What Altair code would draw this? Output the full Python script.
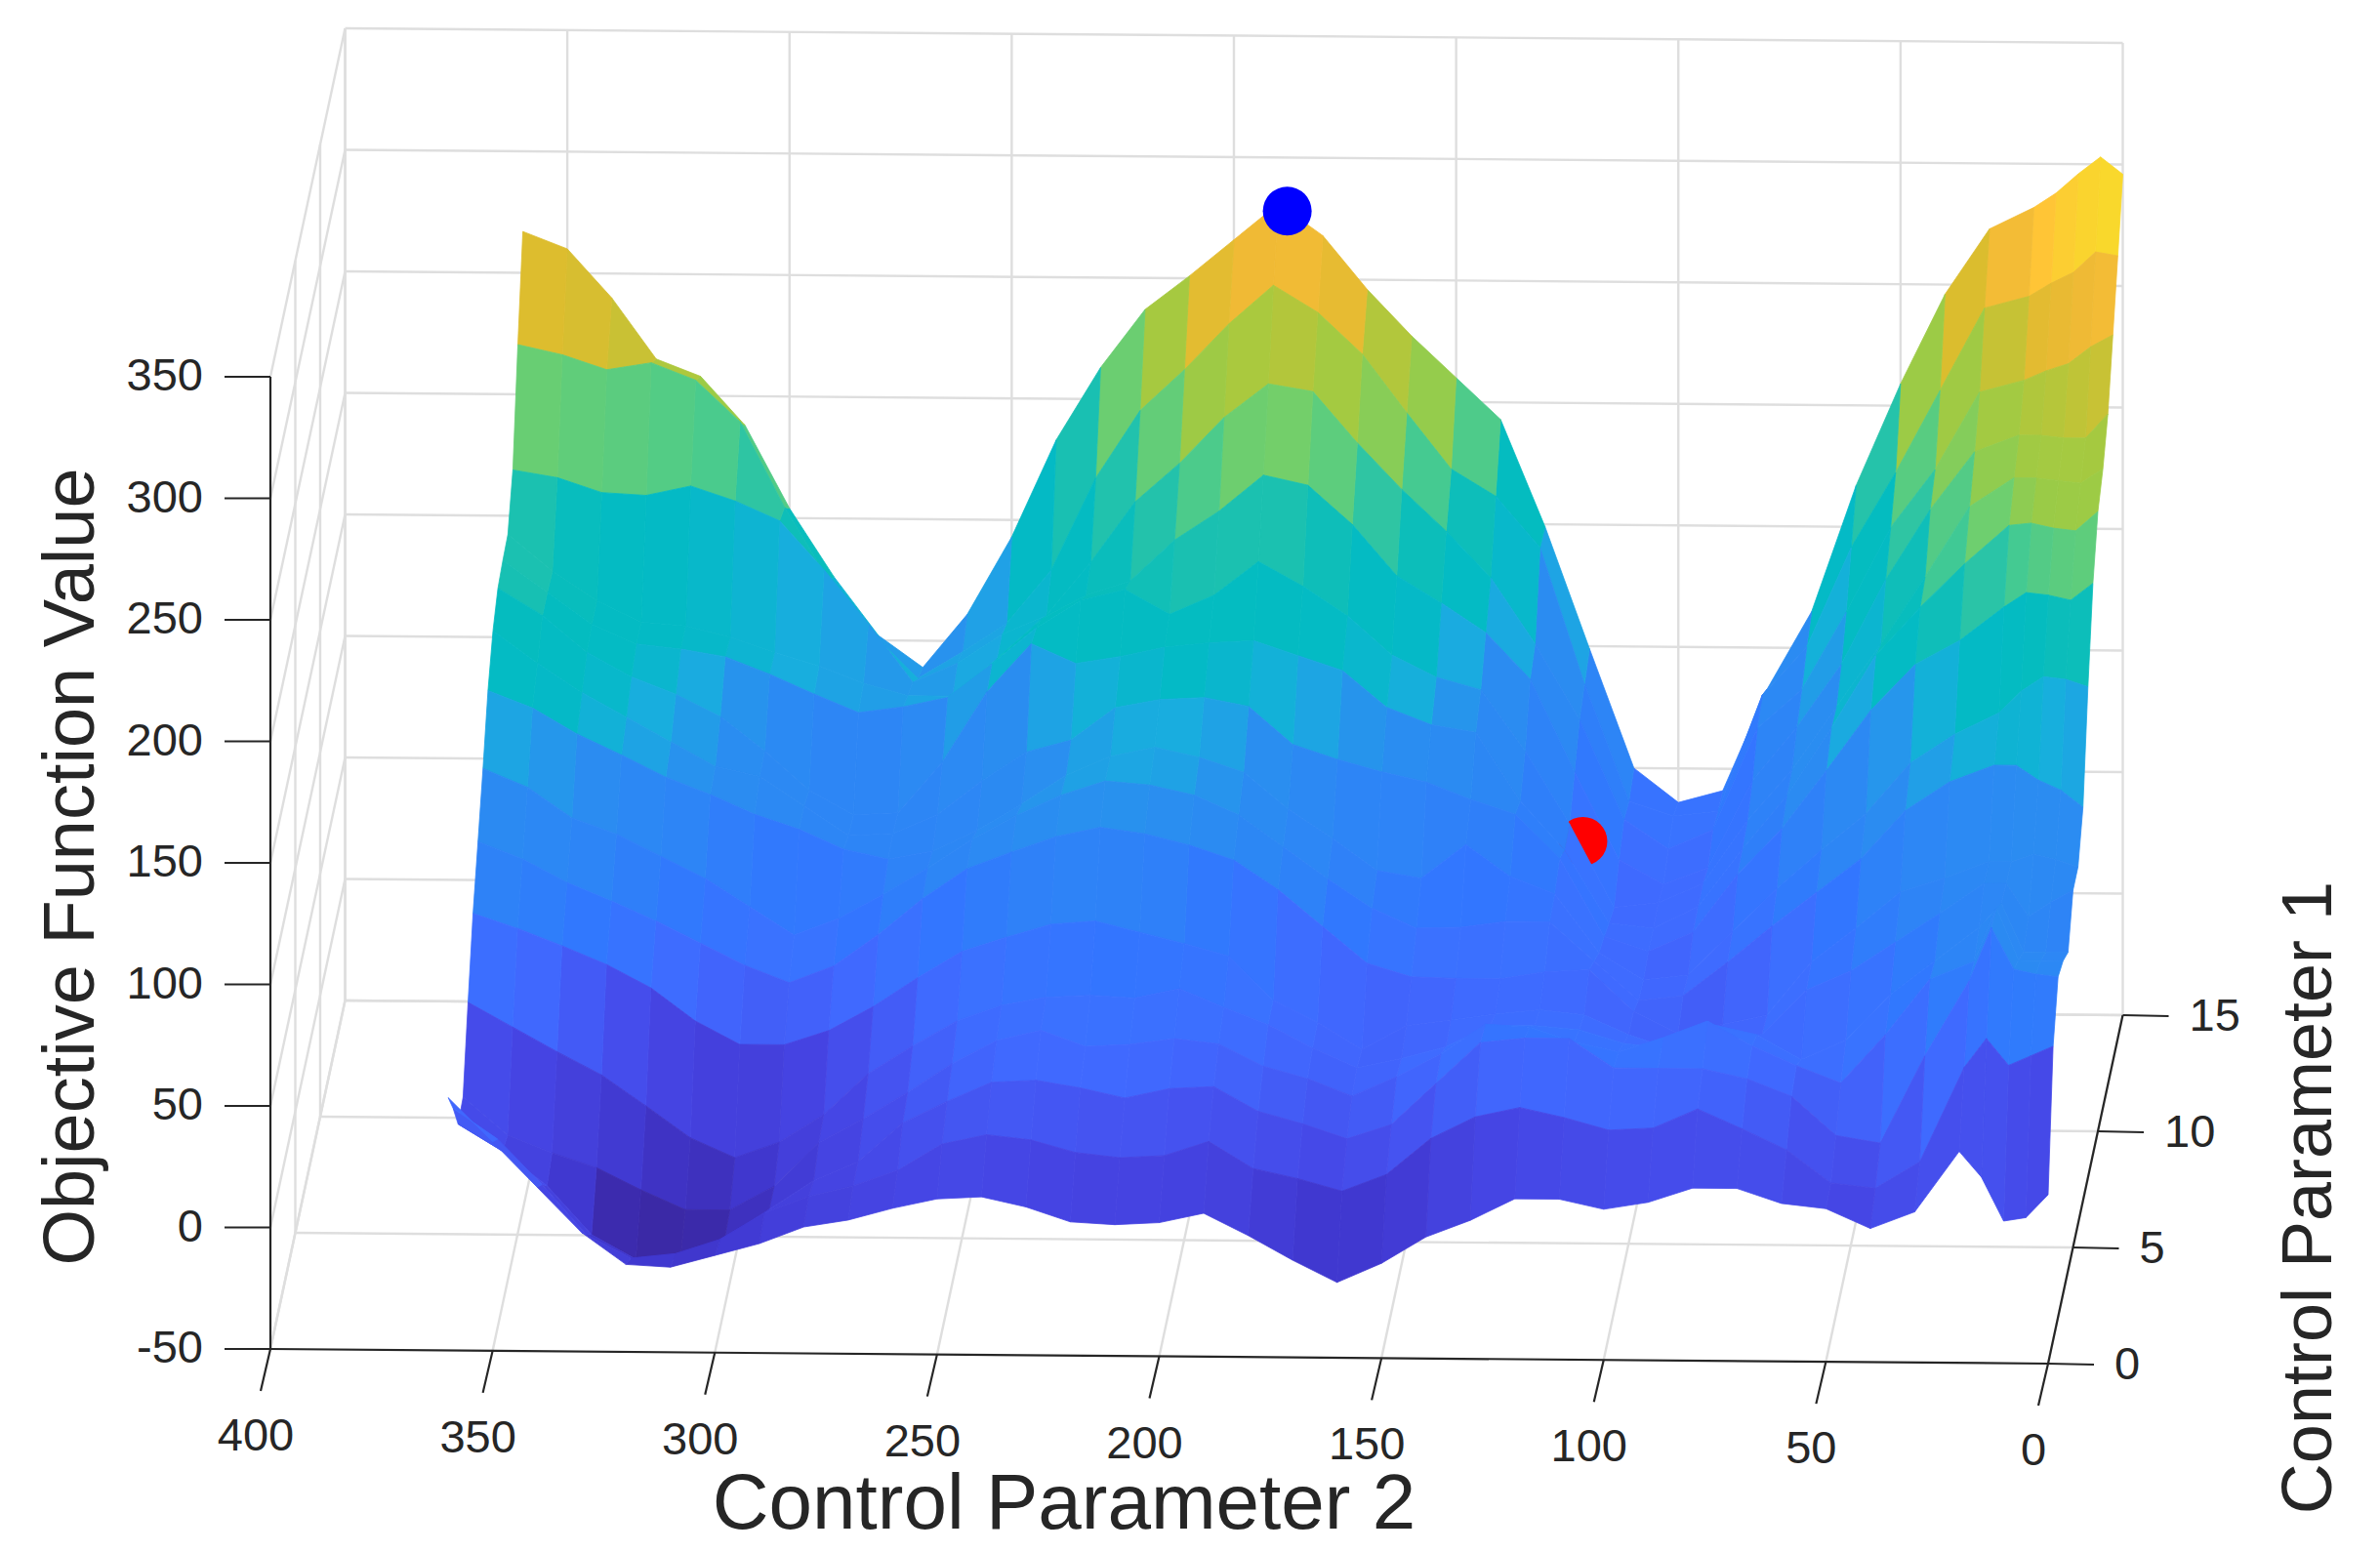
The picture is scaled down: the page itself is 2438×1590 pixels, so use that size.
import altair as alt

cp2_values = [0,5,10,15] + list(range(20, 370, 10))
cp1_values = list(range(0, 16))

z_r0 = [19.5,10,8.5,26.5,37,12,5,13,15,21,21,15,12,16,16,7,0,-11,-19,-10,0,9,5,4,5,11,15,14,10,5,2,-5,-10,-15,-14,-1,17.5,36,54]
z_r1 = [71,67,63,74,62,23,12,14,27.5,36,44,36,35,40,44,40,31,16,9,14,18,29,23,22,24,29,31,27,16,9.5,5,-2,-13,-19,-21,-11.5,9,27.5,40]
z_r2 = [90,91,93,110,88,57,21,24,40,47,51,51,51,63,63,61,44,27,21,27,32,42,41,37,41,44,43,35,26,10,2,-10,-22,-31,-31,-21,-1,13,24]
z_r3 = [87,87,87,108.6,86.5,79,56,36,43,51,61,54,48,52,58,59,46.5,37,29,36,41,50,52,49.5,48.5,55,50.6,41,29,18,8,-10,-20,-20,-12,-3,3,10,25.5]
z_r4 = [81,81,81,101,91,77,63,44,36,46,50,40,42,47.5,49,49,40,35,31,39,48.5,55.5,63,59,60,59,55.5,49,38.5,27,10,-1.5,-8,0,13,25.6,35,45,55]
z_r5 = [97,92,86,99.6,99.5,87,75,63,55,36.5,34,30,36,44,46,44,41.5,39,29,40,49,67,72,76.5,81,79.5,74,68,57,45,35,29,29,38.5,52,61.5,69,76,82]
z_r6 = [97,100,102,99,99,92,86,71,57,35,31,27,36,53,52,49,49,49.5,55,70,85,97,103,107.5,110,106,99.5,92.5,80,65,52,45,52,61,70,78,85.5,95,102]
z_r7 = [112,119,123,129,129,122,110,90,76,62,47,33,31,47,63,63,60.5,60,68,80,93,106,114,118,119.5,113.5,105,95,83,72,62,55,66.5,78,87,96,102.5,115,122.5]
z_r8 = [152,155,156,150,141,132,120,99,84,68,50,32,30,41,65,72,85,71,74,87,99,114,120,124,120,112,100,89,80.5,77,81,89,95,103,110,119,127.5,138,145]
z_r9 = [185,178,180,181,175,161,151,132,107,83,64,40,32,38,70,88,94,101,105,110,116,131.5,135,134,130.5,117,112,100,86,78,77,89,101,105,115,125,135,147,160]
z_r10 = [205,197,198,200,199,183,165,145,115,87,65,41,32,34,64,84,112,115,122,137,143,149,148,146,142,139,147,127,98,77,76,86,102,116,125,132,142,157,168]
z_r11 = [213,207,208,209,209,197,168,140,114,88,67,41,33,31,65,95,120,125,134,150,162,172,158,150,160,155.5,144,129,115,111,108.5,116,124,131,134,136,144,157,170]
z_r12 = [226,216,216,217,217,210,186,157,122,96,74,38,31,41,77,115,134,146,157,178,194,198,183,171,154,148,138,121.5,106,106,111,118,123.5,129.5,134,135.5,144,156,171]
z_r13 = [249,244,237,234,230,225,193,169,134,102,86,44,36,48,89,120,147,166,183,202,223,226,212,193,177,152,130,122,110,102,126,148,168,176,182,178,179,185,188]
z_r14 = [272,273.5,265,260.5,255,250,216,182,151,110,90,42,40,46,94,150,171,182,205,229,246,257,241,222,205,177,139,117,105,94,112,134,164,199,216,223,220,226,230]
z_r15 = [296,303,296,288,282,273,246,209,167,115,83,41,36,50,99,149,193,210,227,246,268,281,266,251,237,213,183,143,111,89,102,126,154,188,208,215,240,260,267]
z_rows = [z_r0,z_r1,z_r2,z_r3,z_r4,z_r5,z_r6,z_r7,z_r8,z_r9,z_r10,z_r11,z_r12,z_r13,z_r14,z_r15]

color_stops = [-30,-20,-10,0,10,23,41,52,62,78,105,120,133,150,168,172,188,198,213,226,240,257,273,303]
color_range = ["#3a28a0","#3c2bb0","#4038d0","#4440dc","#4545e4","#4552f0","#4069ff","#3a72ff","#3276ff","#2e83f7",
               "#2a8ef0","#18aede","#04bac6","#04bcc0","#2cc4a5","#3dc998","#72cf6b","#9acb47","#a8c93f",
               "#dcbd2e","#eeb935","#ffc437","#f8dc2a","#fbf01c"]

cp2_ticks = [0,50,100,150,200,250,300,350,400]
cp1_ticks = [0,5,10,15]
z_ticks = [-50,0,50,100,150,200,250,300,350]

best_point = {"cp2":188,"cp1":15,"z":278}
start_point = {"cp2":117,"cp1":11,"z":58}

GRID = "#dedede"
DARK = "#262626"
FONT = "Liberation Sans"
PROJ = dict(type="identity", scale=1, translate=[-8,-8])

def proj(cp2, cp1, z):
    return (277 + (400-cp2)*4.5525 + cp1*5.1,
            1382 + (400-cp2)*0.0375 - cp1*23.8 - (z+50)*2.49)

def band_value(i, j):
    row = z_rows[i]
    idx = [max(j-1,0), j, j+1, min(j+2,len(row)-1)]
    return sum(row[k] for k in idx) / 4

def feature(i, j):
    a = proj(cp2_values[j], cp1_values[i], z_rows[i][j])
    b = proj(cp2_values[j+1], cp1_values[i], z_rows[i][j+1])
    c = proj(cp2_values[j+1], cp1_values[i+1], z_rows[i+1][j+1])
    d = proj(cp2_values[j], cp1_values[i+1], z_rows[i+1][j])
    return {"type":"Feature",
            "geometry":{"type":"Polygon","coordinates":[[list(a),list(b),list(c),list(d),list(a)]]},
            "properties":{"v":band_value(i,j)}}

def surface(rows):
    feats = [feature(i,j) for i in rows for j in range(len(cp2_values)-1)]
    scale = alt.Scale(domain=color_stops, range=color_range, clamp=True, interpolate="rgb")
    return alt.Chart(alt.Data(values=feats)).mark_geoshape(strokeWidth=0.8).encode(
        fill=alt.Fill("properties.v:Q", scale=scale, legend=None),
        stroke=alt.Stroke("properties.v:Q", scale=scale, legend=None),
    ).project(**PROJ)

def seg_rows(segs):
    rows = []
    for k,(p,q) in enumerate(segs):
        rows.append({"k":k,"o":0,"lon":p[0],"lat":p[1]})
        rows.append({"k":k,"o":1,"lon":q[0],"lat":q[1]})
    return rows

def lines(segs, color, width):
    return alt.Chart(alt.Data(values=seg_rows(segs))).mark_line(color=color, strokeWidth=width, strokeCap="butt").encode(
        longitude="lon:Q", latitude="lat:Q", detail="k:N", order="o:Q"
    ).project(**PROJ)

grid = []
for t in cp2_ticks:
    grid.append((proj(t,0,-50), proj(t,15,-50)))
    grid.append((proj(t,15,-50), proj(t,15,350)))
for t in cp1_ticks[1:]:
    grid.append((proj(400,t,-50), proj(0,t,-50)))
    grid.append((proj(400,t,-50), proj(400,t,350)))
for t in z_ticks:
    grid.append((proj(400,0,t), proj(400,15,t)))
    grid.append((proj(400,15,t), proj(0,15,t)))

axes = [(proj(400,0,-50),proj(0,0,-50)), (proj(0,0,-50),proj(0,15,-50)), (proj(400,0,-50),proj(400,0,350))]
for t in cp2_ticks:
    p = proj(t,0,-50); axes.append((p,(p[0]-10,p[1]+43)))
for t in cp1_ticks:
    p = proj(0,t,-50); axes.append((p,(p[0]+47,p[1]+1)))
for t in z_ticks:
    p = proj(400,0,t); axes.append((p,(p[0]-47,p[1])))

def points(pt, color):
    x,y = proj(pt["cp2"],pt["cp1"],pt["z"])
    return alt.Chart(alt.Data(values=[{"lon":x,"lat":y}])).mark_circle(size=2500, color=color, opacity=1).encode(
        longitude="lon:Q", latitude="lat:Q").project(**PROJ)

def labels(ticks, fn, align, dx, dy):
    vals = [{"t":str(t),"lon":fn(t)[0],"lat":fn(t)[1]} for t in ticks]
    return alt.Chart(alt.Data(values=vals)).mark_text(font=FONT, fontSize=47, color=DARK, align=align, baseline="middle", dx=dx, dy=dy).encode(
        longitude="lon:Q", latitude="lat:Q", text="t:N").project(**PROJ)

def title(text, x, y, size, angle):
    return alt.Chart(alt.Data(values=[{"t":text}])).mark_text(font=FONT, fontSize=size, color=DARK, align="center", baseline="alphabetic", angle=angle).encode(
        x=alt.value(x-8), y=alt.value(y-8), text="t:N")

split = 11
chart = alt.layer(
    lines(grid, GRID, 2.4),
    surface(range(14, split-1, -1)),
    points(start_point, "#ff0000"),
    surface(range(split-1, -1, -1)),
    points(best_point, "#0000ff"),
    lines(axes, DARK, 2.2),
    labels(cp2_ticks, lambda t: proj(t,0,-50), "center", -15, 90),
    labels(cp1_ticks, lambda t: proj(0,t,-50), "left", 68, 2),
    labels(z_ticks, lambda t: proj(400,0,t), "right", -69, 0),
    title("Objective Function Value", 96, 888, 74, 270),
    title("Control Parameter 2", 1090, 1566, 80, 0),
    title("Control Parameter 1", 2388, 1227, 72, 270),
).properties(width=2422, height=1574, padding=0, autosize="none").configure_view(stroke=None)

chart.save("out.html", embed_options={"renderer": "svg", "actions": False})
